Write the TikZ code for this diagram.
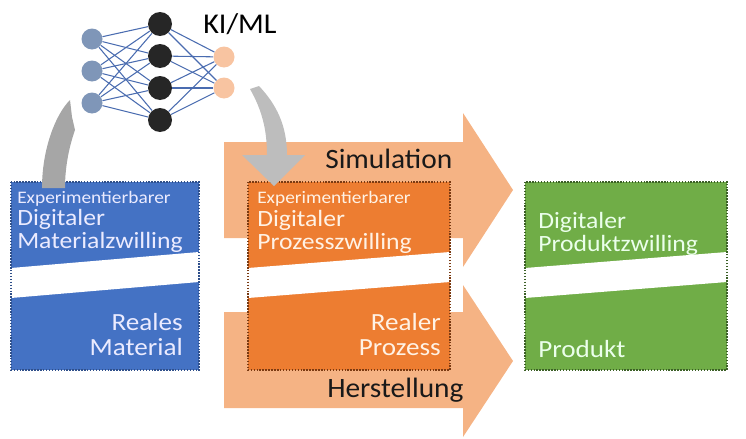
\documentclass[tikz,border=0pt]{standalone}
\usepackage{fontspec}
\setmainfont{Carlito}
\newfontfamily\boxfont[FakeStretch=1.1]{Carlito}
\newfontfamily\labelfont[FakeStretch=1.05]{Carlito}
\setlength{\lineskiplimit}{-100pt}

\definecolor{matblue}{HTML}{4472C4}
\definecolor{matedge}{HTML}{2F4F8A}
\definecolor{procorange}{HTML}{ED7D31}
\definecolor{procedge}{HTML}{7A3A12}
\definecolor{prodgreen}{HTML}{70AD47}
\definecolor{prodedge}{HTML}{3B5F26}
\definecolor{peach}{HTML}{F5B384}
\definecolor{inblue}{HTML}{7F96B8}
\definecolor{hidblack}{HTML}{262626}
\definecolor{outpeach}{HTML}{F8C4A1}
\definecolor{wireblue}{HTML}{4A6CB0}
\definecolor{grayL}{HTML}{A6A6A6}
\definecolor{grayR}{HTML}{BDBDBD}

\begin{document}
\begin{tikzpicture}[x=0.75pt, y=-0.75pt,
  neuron/.style={circle, inner sep=0pt, minimum size=#1},
  wire/.style={wireblue, line width=0.8pt},
  twin/.style={line width=1.1pt, dash pattern=on 1.1pt off 1.1pt},
  small/.style={font=\boxfont\fontsize{13.2}{15}\selectfont, inner sep=0pt},
  big/.style={font=\boxfont\fontsize{17.5}{16.8}\selectfont, inner sep=0pt},
  real/.style={font=\boxfont\fontsize{18.5}{18.75}\selectfont, inner sep=0pt},
  stage/.style={font=\labelfont\fontsize{21}{24}\selectfont, inner sep=0pt, text=black!90}]
  \useasboundingbox (0,0) rectangle (746,439);

  % Big arrows Simulation / Herstellung
  \fill[peach] (224,142) -- (463,142) -- (463,113) -- (513,190) -- (463,267) -- (463,238) -- (224,238) -- cycle;
  \fill[peach] (224,312) -- (463,312) -- (463,285) -- (513,361) -- (463,437) -- (463,408) -- (224,408) -- cycle;

  % Twin boxes with white gap
  \foreach \xl/\xr/\col/\edge in {11/199/matblue/matedge, 248/450/procorange/procedge, 525/727/prodgreen/prodedge}{
    \fill[\col] (\xl,182) rectangle (\xr,370);
    \fill[white] (\xl,268) -- (\xr,252) -- (\xr,282) -- (\xl,298) -- cycle;
    \draw[twin, \edge] (\xl,182) rectangle (\xr,370);
  }

  % Neural net
  \foreach \y [count=\i] in {39,71,103}
    \node[neuron=15.75pt, fill=inblue] (in\i) at (92,\y) {};
  \foreach \y [count=\i] in {24,56,88,120}
    \node[neuron=18pt, fill=hidblack] (hid\i) at (160,\y) {};
  \foreach \y [count=\i] in {57,88}
    \node[neuron=15.75pt, fill=outpeach] (out\i) at (224,\y) {};
  \foreach \i in {1,2,3}
    \foreach \j in {1,...,4}
      \draw[wire] (in\i) -- (hid\j);
  \foreach \j in {1,...,4}
    \foreach \k in {1,2}
      \draw[wire] (hid\j) -- (out\k);
  \node[font=\labelfont\fontsize{21.5}{24}\selectfont, inner sep=0pt, anchor=base west] (kiml) at (203,33) {KI/ML};

  % Gray arrows net <-> boxes
  \fill[grayL] (42,188) .. controls (42,150) and (55,115) .. (70,100) -- (72,117) -- (75,130)
    .. controls (68,150) and (65,170) .. (65,188) -- cycle;
  \fill[grayR] (250,89) .. controls (262,110) and (267,130) .. (267,155) -- (242,155) -- (274,186)
    -- (305,155) -- (287,155) .. controls (287,125) and (276,104) .. (259,86) -- cycle;

  % Labels on the arrows
  \node[stage, anchor=base west] (sim) at (325,168) {Simulation};
  \node[stage, anchor=base west] (herst) at (327,397) {Herstellung};

  % Material (base = last line)
  \node[small, anchor=base west, text=blue!8] (matexp) at (17,203) {Experimentierbarer};
  \node[big, align=left, anchor=base west, text=blue!8] (matdig) at (17,248) {Digitaler\\Materialzwilling};
  \node[real, align=right, anchor=base east, text=blue!8] (mat) at (183,355) {Reales\\Material};

  % Prozess
  \node[small, anchor=base west, text=orange!10] (procexp) at (257,203) {Experimentierbarer};
  \node[big, align=left, anchor=base west, text=orange!10] (procdig) at (257,249) {Digitaler\\Prozesszwilling};
  \node[real, align=right, anchor=base east, text=orange!10] (proc) at (441,355) {Realer\\Prozess};

  % Produkt
  \node[big, align=left, anchor=base west, text=green!8] (proddig) at (538,251) {Digitaler\\Produktzwilling};
  \node[real, anchor=base west, text=green!8] (prod) at (538,357) {Produkt};
\end{tikzpicture}
\end{document}
